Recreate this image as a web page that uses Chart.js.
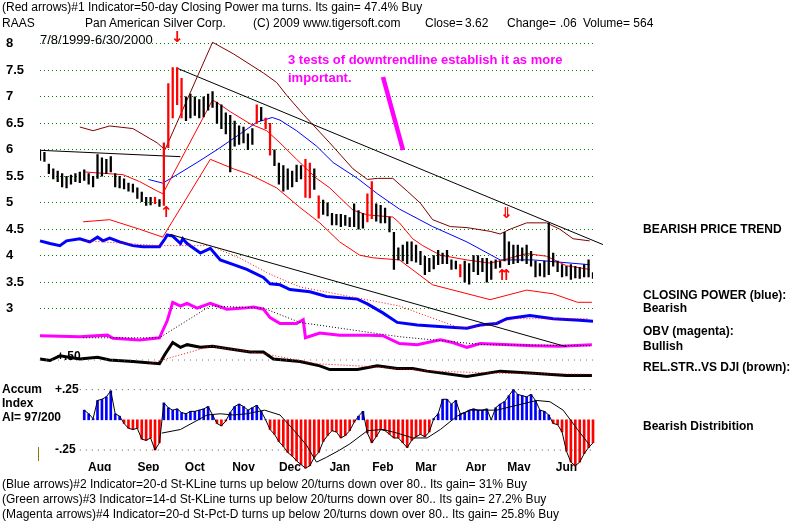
<!DOCTYPE html>
<html>
<head>
<meta charset="utf-8">
<script src="https://cdn.jsdelivr.net/npm/chart.js@4.4.1/dist/chart.umd.min.js"></script>
<style>
  html, body { margin: 0; padding: 0; background: #fff; }
  #wrap { position: relative; width: 800px; height: 530px; overflow: hidden; font-family: "Liberation Sans", Arial, sans-serif; }
  #wrap canvas { position: absolute; left: 0; top: 0; }
  .t { position: absolute; white-space: nowrap; font-size: 12px; line-height: 14px; color: #000; }
  .b { font-weight: bold; }
  .mag { color: #ff00ff; font-weight: bold; font-size: 13px; }
  .arr { color: #ff0000; font-weight: bold; font-size: 15px; line-height: 15px; font-family: "DejaVu Sans", sans-serif; }
  svg { position: absolute; left: 0; top: 0; }
</style>
</head>
<body>
<div id="wrap">
  <canvas id="c" width="800" height="530"></canvas>

  <div class="t" style="left:2px;top:0px">(Red arrows)#1 Indicator=50-day Closing Power ma turns. Its gain= 47.4% Buy</div>
  <div class="t" style="left:2px;top:16px">RAAS</div>
  <div class="t" style="left:85px;top:16px">Pan American Silver Corp.</div>
  <div class="t" style="left:253px;top:16px">(C) 2009 www.tigersoft.com</div>
  <div class="t" style="left:425px;top:16px">Close=</div>
  <div class="t" style="left:465px;top:16px">3.62</div>
  <div class="t" style="left:507px;top:16px">Change=</div>
  <div class="t" style="left:560px;top:16px">.06</div>
  <div class="t" style="left:583px;top:16px">Volume= 564</div>
  <div class="t" style="left:40px;top:33px;font-size:13px">7/8/1999-6/30/2000</div>

  <div class="t mag" style="left:288px;top:53px">3 tests of downtrendline establish it as more</div>
  <div class="t mag" style="left:288px;top:71px">important.</div>

  <div class="t arr" style="left:171px;top:30px">↓</div>
  <div class="t arr" style="left:160px;top:205px">↑</div>
  <div class="t arr" style="left:500px;top:206px">⇓</div>
  <div class="t arr" style="left:498px;top:268px">⇈</div>

  <div class="t b" style="left:643px;top:222px">BEARISH PRICE TREND</div>
  <div class="t b" style="left:643px;top:288px">CLOSING POWER (blue):</div>
  <div class="t b" style="left:643px;top:301px">Bearish</div>
  <div class="t b" style="left:643px;top:324px">OBV (magenta):</div>
  <div class="t b" style="left:643px;top:339px">Bullish</div>
  <div class="t b" style="left:643px;top:360px">REL.STR..VS DJI (brown):</div>
  <div class="t b" style="left:643px;top:419px">Bearish Distribition</div>

  <div class="t b" style="left:57px;top:349px">+.50</div>
  <div class="t b" style="left:2px;top:382px">Accum</div>
  <div class="t b" style="left:2px;top:396px">Index</div>
  <div class="t b" style="left:2px;top:410px">AI= 97/200</div>
  <div style="position:absolute;left:38px;top:447px;width:1px;height:14px;background:#808000"></div>

  <div class="t" style="left:2px;top:477px">(Blue arrows)#2 Indicator=20-d St-KLine turns up below 20/turns down over 80.. Its gain= 31% Buy</div>
  <div class="t" style="left:2px;top:492px">(Green arrows)#3 Indicator=14-d St-KLine turns up below 20/turns down over 80.. Its gain= 27.2% Buy</div>
  <div class="t" style="left:2px;top:507px">(Magenta arrows)#4 Indicator=20-d St-Pct-D turns up below 20/turns down over 80.. Its gain= 25.8% Buy</div>

  <svg width="800" height="530"><line x1="383" y1="77" x2="403" y2="150" stroke="#ff00ff" stroke-width="4.5"/></svg>
</div>

<script>
// trading-day axis: day 0 = 7/8/1999, day 250 = 6/30/2000
const monthLabels = ['Aug', 'Sep', 'Oct', 'Nov', 'Dec', 'Jan', 'Feb', 'Mar', 'Apr', 'May', 'Jun'];
const monthTicks = [27, 49, 70, 92, 113, 135.5, 155, 174.5, 197, 216.5, 238];
const priceTicks = [3, 3.5, 4, 4.5, 5, 5.5, 6, 6.5, 7, 7.5, 8];
const aiTicks = [-0.25, 0.25];
const aiTickLabels = ['-.25', '+.25'];

// daily bars, sampled every 2 trading days from day 0
const barStep = 2;
const barHigh = [5.98,5.95,5.73,5.64,5.60,5.55,5.50,5.52,5.55,5.58,5.62,5.55,5.50,5.91,5.85,5.82,5.87,5.55,5.50,5.45,
  5.37,5.35,5.28,5.20,5.10,5.10,5.10,5.06,6.13,7.25,7.55,7.55,7.35,7.00,7.05,7.00,6.95,7.00,7.05,7.10,
  6.90,6.85,6.70,6.65,6.54,6.45,6.43,6.30,6.40,6.85,6.80,6.60,6.50,6.00,5.75,5.70,5.64,5.60,5.71,5.70,
  5.82,5.75,5.64,5.13,5.05,5.00,4.80,4.78,4.78,4.76,4.72,4.98,4.85,4.80,5.17,5.40,4.98,4.95,4.90,4.73,
  4.44,4.15,4.20,4.26,4.26,4.20,4.08,3.99,3.95,4.00,4.10,4.05,4.10,3.92,3.90,3.83,3.90,3.85,4.00,4.00,
  3.95,3.95,3.90,3.92,3.90,4.44,4.26,4.20,4.20,4.15,4.20,4.08,3.90,3.85,3.90,4.62,4.05,3.90,3.83,3.80,
  3.83,3.80,3.78,3.83,3.92,3.68];
const barLow = [5.80,5.78,5.55,5.45,5.40,5.30,5.28,5.35,5.40,5.38,5.42,5.35,5.30,5.46,5.50,5.55,5.58,5.30,5.28,5.26,
  5.22,5.20,5.08,5.02,4.95,4.96,4.98,4.93,4.95,6.04,6.60,6.85,6.60,6.55,6.60,6.65,6.60,6.62,6.75,6.80,
  6.50,6.40,6.30,5.58,6.07,6.10,6.13,6.00,6.10,6.50,6.55,6.40,5.90,5.70,5.35,5.22,5.25,5.30,5.40,5.45,
  5.10,5.09,5.25,4.71,4.78,4.75,4.58,4.58,4.55,4.57,4.55,4.55,4.50,4.52,4.64,4.70,4.65,4.62,4.62,4.45,
  3.74,3.92,3.90,3.85,3.90,3.88,3.83,3.64,3.70,3.75,3.83,3.85,3.85,3.74,3.75,3.60,3.50,3.46,3.70,3.64,
  3.70,3.50,3.55,3.76,3.78,3.90,3.83,3.85,3.87,3.90,3.85,3.80,3.60,3.62,3.60,3.64,3.80,3.70,3.60,3.62,
  3.55,3.58,3.57,3.60,3.60,3.57];
const signalBars = [26, 28, 29, 30, 31, 32, 49, 51, 52, 60, 61, 63, 74, 75, 95];

const upperBandDays = [18,24,31.5,42,53,56.5,78,87.5,101,107,111.5,119,131,141.5,148,152.5,159.5,166,172,177.5,185.5,193,203.5,208,212.5,220,229,235,241,248.5];
const upperBandVals = [6.43,6.36,6.45,6.40,6.13,6.00,8.03,7.81,7.45,7.27,7.03,6.67,6.13,5.64,5.44,5.46,5.46,5.22,4.99,4.68,4.55,4.53,4.46,4.41,4.50,4.62,4.62,4.50,4.32,4.28];
const redUpperDays = [20.5,30.5,37.5,45,53,55.5,78,81.5,86,95,102.5,108.5,116,125,131,137,141.5,148,159.5,162.5,168.5,173,181,193,203.5,209.5,220,229,238,248.5];
const redUpperVals = [5.58,5.55,5.53,5.40,5.22,5.17,6.94,6.85,6.72,6.49,6.36,6.13,5.82,5.46,5.28,5.04,4.86,4.77,4.73,4.62,4.32,4.19,4.01,3.92,3.86,3.92,4.04,3.99,3.81,3.74];
const redLowerDays = [19.5,31.5,45,55.5,77,87.5,95,107,117.5,126.5,135.5,144.5,150.5,162.5,177.5,203.5,220,232,243,249.5];
const redLowerVals = [4.64,4.68,4.50,4.35,5.82,5.64,5.53,5.28,4.91,4.62,4.26,4.01,3.96,3.92,3.45,3.17,3.35,3.28,3.12,3.12];
const ma50Days = [49,55.5,62,71,80,90.5,98,105,108.5,116,125,132.5,143.5,152.5,162.5,177.5,193,208,223,248.5];
const ma50Vals = [5.44,5.37,5.53,5.76,6.00,6.30,6.52,6.61,6.56,6.36,6.07,5.76,5.46,5.17,4.88,4.55,4.26,3.92,3.92,3.83];

const resistDays = [0, 63.5];
const resistVals = [5.99, 5.87];
const downTrendDays = [62, 254.5];
const downTrendVals = [7.54, 4.21];
const lowTrendDays = [59, 238];
const lowTrendVals = [4.40, 2.28];

// indicators, plotted in the price panel's units
const cpDays = [0,4.5,9,12,18,22.5,26,28.5,31.5,36,42,46.5,54,56.5,57.5,60,63.5,64.5,66.5,72.5,77,81.5,87.5,93.5,96.5,101,104,108.5,113,122,129.5,143.5,148,155,161.5,170.5,185.5,193,199,206.5,211,221.5,232,244,250];
const cpVals = [4.28,4.23,4.19,4.28,4.32,4.26,4.35,4.28,4.33,4.26,4.19,4.17,4.17,4.32,4.39,4.37,4.23,4.32,4.23,4.05,4.14,3.92,3.83,3.74,3.68,3.59,3.47,3.45,3.36,3.32,3.23,3.18,3.09,2.92,2.74,2.69,2.65,2.63,2.69,2.72,2.81,2.87,2.81,2.78,2.76];
const cpMaDays = [21,54,77,90.5,104,117.5,140,162.5,190,203.5,214,247.5];
const cpMaVals = [4.28,4.19,4.19,3.95,3.65,3.41,3.23,3.05,2.63,2.69,2.81,2.81];
const obvDays = [0,18,30.5,33,45,54,57.5,60,63.5,66.5,71,77,84.5,92,96.5,101,104,108.5,116,119,120,126.5,135.5,149,155,162.5,170.5,181,186.5,193,199,223,235,249.5];
const obvVals = [2.49,2.47,2.50,2.44,2.41,2.45,2.77,3.12,3.05,3.10,3.01,3.10,2.99,3.01,3.03,2.99,2.83,2.72,2.72,2.79,2.45,2.54,2.50,2.50,2.49,2.34,2.32,2.41,2.36,2.27,2.34,2.30,2.29,2.32];
const obvMaDays = [19.5,54,77,101,117.5,132.5,162.5,185.5,200.5,249.5];
const obvMaVals = [2.45,2.45,3.05,3.01,2.74,2.65,2.47,2.38,2.32,2.30];
const rsDays = [0,4.5,9,18,26,31.5,42,54,56.5,60,63.5,66.5,72.5,78,87.5,95,101,105.5,117.5,126.5,131,143.5,152.5,161.5,168.5,175,193,208,223,238,249.5];
const rsVals = [2.05,2.02,2.11,2.05,2.08,2.03,2.00,1.96,2.14,2.36,2.27,2.32,2.27,2.29,2.23,2.18,2.18,2.05,2.00,1.92,1.85,1.85,1.92,1.87,1.87,1.82,1.72,1.82,1.78,1.74,1.74];
const rsMaDays = [49.5,77,102.5,125,148,177.5,208,249.5];
const rsMaVals = [1.96,2.29,2.14,1.96,1.91,1.82,1.78,1.76];
const rsMidLevel = 2.03;

// accumulation index, every 2 trading days from day 20
const aiStart = 20;
const aiStep = 2;
const aiVals = [0.08,0.05,0.01,0.16,0.17,0.19,0.24,0.05,0.03,-0.03,
  -0.07,-0.08,-0.07,-0.16,-0.17,-0.15,-0.25,-0.19,0.14,0.10,
  0.08,0.09,0.06,0.05,0.07,0.07,0.08,0.09,0.11,0.04,
  -0.03,-0.05,-0.01,0.06,0.11,0.13,0.11,0.08,0.10,0.12,
  0.07,0.00,-0.08,-0.12,-0.18,-0.22,-0.27,-0.30,-0.34,-0.37,
  -0.40,-0.38,-0.31,-0.27,-0.18,-0.13,-0.09,-0.10,-0.15,-0.13,
  -0.09,-0.02,0.03,0.07,-0.11,-0.19,-0.14,-0.08,-0.09,-0.12,
  -0.15,-0.15,-0.19,-0.23,-0.17,-0.14,-0.12,-0.14,-0.10,0.01,
  0.05,0.17,0.17,0.13,0.16,0.05,0.06,0.08,0.09,0.08,
  0.08,0.09,0.00,0.10,0.13,0.15,0.20,0.25,0.21,0.20,
  0.19,0.21,0.16,0.08,0.07,0.04,-0.03,-0.04,-0.10,-0.26,
  -0.35,-0.38,-0.35,-0.28,-0.23,-0.19];
const aiMaDays = [55,63.5,75.5,81.5,87.5,93.5,101.5,108.5,114.5,120.5,125,129.5,135.5,140,148,155,161.5,168.5,175,181,188.5,194.5,206.5,215.5,224.5,230.5,236.5,243,248.5];
const aiMaVals = [-0.11,-0.08,0.04,0.05,0.04,0.05,0.08,0.04,-0.08,-0.21,-0.35,-0.31,-0.25,-0.20,-0.09,-0.08,-0.11,-0.15,-0.15,-0.08,0.03,0.08,0.08,0.12,0.16,0.15,0.08,-0.08,-0.21];

const pts = (days, vals) => days.map((d, i) => ({ x: d, y: vals[i] }));

const priceBars = barHigh.map((h, i) => ({ x: i * barStep, y: [barLow[i], h] }));
const barColors = barHigh.map((h, i) => signalBars.includes(i) ? '#ff0000' : '#000000');
const aiData = aiVals.map((v, i) => ({ x: aiStart + i * aiStep, y: v }));
const aiColors = aiVals.map(v => v >= 0 ? '#0000ff' : '#ff0000');

function line(data, color, width, dash, axis) {
    return {
        type: 'line', data: data, borderColor: color, borderWidth: width,
        borderDash: dash || [], pointRadius: 0, fill: false, tension: 0,
        yAxisID: axis || 'y', clip: false
    };
}

const datasets = [
    { type: 'bar', data: priceBars, backgroundColor: barColors, barThickness: 1.6, grouped: false, yAxisID: 'y' },
    line(pts(upperBandDays, upperBandVals), '#800000', 1),
    line(pts(redUpperDays, redUpperVals), '#ff0000', 1),
    line(pts(redLowerDays, redLowerVals), '#ff0000', 1),
    line(pts(ma50Days, ma50Vals), '#0000ff', 1),
    line(pts(resistDays, resistVals), '#000000', 1),
    line(pts(downTrendDays, downTrendVals), '#000000', 1),
    line(pts(lowTrendDays, lowTrendVals), '#000000', 1),
    line(pts(cpMaDays, cpMaVals), '#ff0000', 1, [1, 2]),
    line(pts(cpDays, cpVals), '#0000ff', 3),
    line(pts(obvMaDays, obvMaVals), '#000000', 1, [1, 2]),
    line(pts(obvDays, obvVals), '#ff00ff', 3),
    line(pts([0, 250], [rsMidLevel, rsMidLevel]), '#777777', 1, [1, 5]),
    line(pts(rsMaDays, rsMaVals), '#ff0000', 1, [1, 2]),
    line(pts(rsDays, rsVals), '#000000', 3),
    line(pts([18, 250], [0.25, 0.25]), '#555555', 1, [1, 5], 'ai'),
    line(pts([18, 250], [-0.25, -0.25]), '#555555', 1, [1, 5], 'ai'),
    line(pts(aiMaDays, aiMaVals), '#000000', 1, null, 'ai'),
    line(aiData, '#000000', 1, null, 'ai'),
    { type: 'bar', data: aiData, backgroundColor: aiColors, barThickness: 2, grouped: false, yAxisID: 'ai', clip: false }
];

new Chart(document.getElementById('c'), {
    type: 'bar',
    data: { datasets: datasets },
    options: {
        responsive: false,
        animation: false,
        events: [],
        layout: { padding: { left: 6, right: 207, top: 4, bottom: 59 } },
        plugins: { legend: { display: false }, tooltip: { enabled: false } },
        scales: {
            x: {
                type: 'linear', min: 0, max: 250, offset: false,
                afterBuildTicks: s => { s.ticks = monthTicks.map(v => ({ value: v })); },
                afterFit: s => { s.height = 20; },
                ticks: { autoSkip: false, maxRotation: 0, padding: 1, color: '#000',
                    font: { family: 'Liberation Sans', size: 12, weight: 'bold' },
                    callback: (v, i) => monthLabels[i] },
                grid: { display: false, offset: false },
                border: { display: false }
            },
            y: {
                type: 'linear', position: 'left', weight: 2, min: 0.312, max: 8.409,
                afterBuildTicks: s => { s.ticks = priceTicks.map(v => ({ value: v })); },
                afterFit: s => { s.width = 34; },
                ticks: { crossAlign: 'far', padding: 0, color: '#000',
                    font: { family: 'Liberation Sans', size: 13, weight: 'bold' },
                    callback: v => String(v) },
                grid: { color: '#008000', lineWidth: 1, drawTicks: false },
                border: { display: false, dash: [1, 3] }
            },
            ai: {
                type: 'linear', position: 'left', weight: 1, min: -0.258, max: 3.29,
                afterBuildTicks: s => { s.ticks = aiTicks.map(v => ({ value: v })); },
                afterFit: s => { s.width = 0; },
                ticks: { mirror: true, padding: 15, color: '#000',
                    font: { family: 'Liberation Sans', size: 12, weight: 'bold' },
                    callback: (v, i) => aiTickLabels[i] },
                grid: { display: false },
                border: { display: false }
            }
        }
    }
});
</script>
</body>
</html>
